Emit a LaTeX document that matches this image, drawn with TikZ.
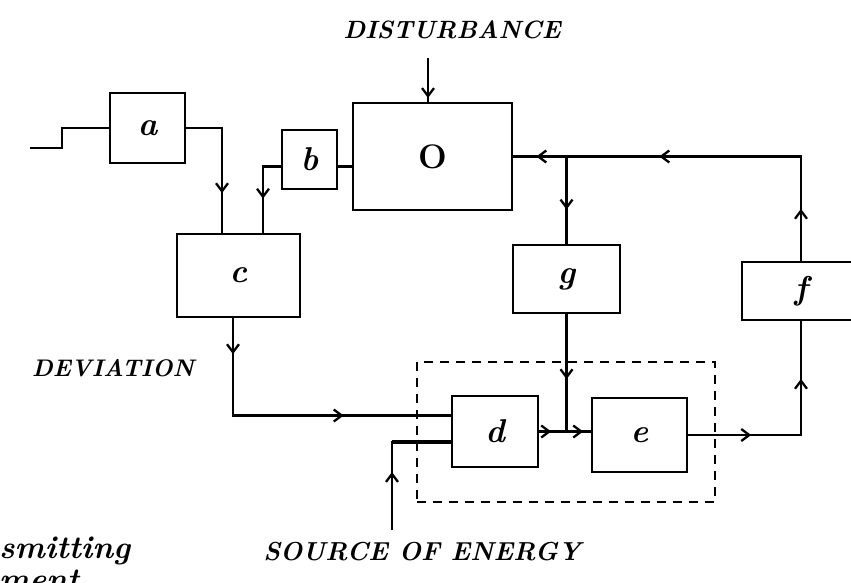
\documentclass[tikz,border=0pt]{standalone}
\usepackage{fontspec}
\usetikzlibrary{arrows.meta,decorations.markings,calc}
\begin{document}
\begin{tikzpicture}[x=1pt,y=-1pt, line width=2.3pt,
 box/.style={draw, rectangle, inner sep=0pt, font=\fontsize{33}{35}\selectfont\bfseries\itshape},
 txtlbl/.style={inner sep=0pt},
 arr/.style={postaction={decorate, decoration={markings, mark=at position #1 with {\arrow{Straight Barb[length=8pt,width=12pt]}}}}},
 grpbox/.style={draw, dash pattern=on 9pt off 7pt, line width=2pt, inner sep=0pt}
]
\path[use as bounding box, clip] (0,0) rectangle (851,582);

% boxes
\node[box, minimum width=75pt, minimum height=70pt] (a) at (147.5,128) {a};
\node[box, minimum width=55pt, minimum height=59pt] (b) at (309.5,159.5) {b};
\node[box, minimum width=159pt, minimum height=107pt, font=\fontsize{34}{36}\selectfont\bfseries] (O) at (432.5,156.5) {O};
\node[box, minimum width=123pt, minimum height=83pt] (c) at (238.5,275.5) {c};
\node[box, minimum width=107pt, minimum height=68pt] (g) at (566.5,279) {g};
\node[box, minimum width=118pt, minimum height=58pt] (f) at (801,291) {f};
\node[box, minimum width=86pt, minimum height=71pt] (d) at (495,431.5) {d};
\node[box, minimum width=95pt, minimum height=74pt] (e) at (639.5,435) {e};
\node[grpbox, minimum width=298pt, minimum height=140pt] (grp) at (566,432) {};

% labels
\node[txtlbl, font=\fontsize{25}{27}\selectfont\bfseries\itshape] (tdist) at (452,30) {DISTURBANCE};
\node[txtlbl, font=\fontsize{24}{26}\selectfont\bfseries\itshape] (tdev) at (113,368) {DEVIATION};
\node[txtlbl, font=\fontsize{26}{28}\selectfont\bfseries\itshape] (tsrc) at (422,552) {SOURCE OF ENERGY};
\node[txtlbl, anchor=base west, font=\fontsize{32}{34}\selectfont\bfseries\itshape] (tsm) at (-2,558) {smitting};
\node[txtlbl, anchor=base west, font=\fontsize{32}{34}\selectfont\bfseries\itshape] (tme) at (-2,590) {ment};

% coordinates for free ends
\coordinate (in0) at (30,148);
\coordinate (dist) at (428,58);
\coordinate (src) at (392,530);

% connectors
\draw (in0) -- ++(32,0) |- (a.west);
\draw[arr=101pt] (a.east) -| ([xshift=-16.5pt]c.north);
\draw[arr=50pt] ([yshift=-7pt]b.west) -| ([xshift=24.5pt]c.north);
\draw ([yshift=-7pt]b.east) -- ([yshift=-7pt]b.east -| O.west);
\draw[arr=40pt] (dist) -- (dist |- O.north);
\draw[arr=52pt, arr=246pt, arr=369pt] (f.north) |- (O.east);
\draw[arr=53pt] (g.north |- O.east) -- (g.north);
\draw[arr=65pt] (g.south) -- (g.south |- d.east);
\draw[arr=12pt, arr=44pt] (d.east) -- (d.east -| e.west);
\draw[arr=63pt, arr=169pt] (e.east) -| (f.south);
\draw[arr=36pt, arr=208pt] ([xshift=-5.5pt]c.south) |- ([yshift=16pt]d.west);
\draw[arr=58pt] (src) |- ([yshift=-10.5pt]d.west);
\draw[line width=3.6pt] ([yshift=-10.5pt]d.west -| src) -- ([yshift=-10.5pt]d.west);
\end{tikzpicture}
\end{document}
